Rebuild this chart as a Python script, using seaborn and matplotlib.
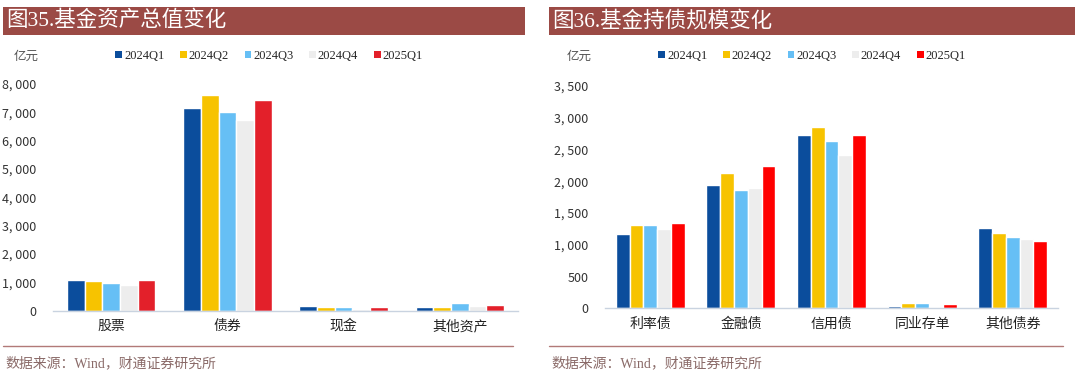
import matplotlib
matplotlib.use("Agg")
import matplotlib.pyplot as plt
from matplotlib.patches import Rectangle, Patch
from matplotlib.lines import Line2D
from matplotlib.ticker import FuncFormatter, FixedLocator
import seaborn as sns
import pandas as pd

sns.set_theme(style="white")
plt.rcParams['font.family'] = ['Noto Sans CJK SC', 'DejaVu Sans']

quarters = ["2024Q1", "2024Q2", "2024Q3", "2024Q4", "2025Q1"]

# Chart 35: fund total assets (亿元)
cats_left = ["股票", "债券", "现金", "其他资产"]
stock_vals = [1080, 1060, 985, 910, 1078]
bond_vals = [7140, 7600, 7020, 6720, 7440]
cash_vals = [150, 130, 140, 60, 130]
other_vals = [120, 120, 270, 150, 200]

# Chart 36: fund bond holdings (亿元)
cats_right = ["利率债", "金融债", "信用债", "同业存单", "其他债券"]
rate_vals = [1175, 1307, 1307, 1244, 1348]
fin_vals = [1942, 2126, 1858, 1900, 2236]
credit_vals = [2729, 2860, 2635, 2415, 2730]
ncd_vals = [36, 79, 79, 20, 63]
otherbond_vals = [1260, 1181, 1128, 1091, 1060]

colors_left = ["#0B4D9C", "#F7C300", "#66BFF5", "#EDEDED", "#E3202A"]
colors_right = ["#0B4D9C", "#F7C300", "#66BFF5", "#EDEDED", "#FF0000"]

def long_df(cats, series):
    rows = []
    for c, vals in zip(cats, series):
        for q, v in zip(quarters, vals):
            rows.append({"cat": c, "q": q, "v": v})
    return pd.DataFrame(rows)

df_left = long_df(cats_left, [stock_vals, bond_vals, cash_vals, other_vals])
df_right = long_df(cats_right, [rate_vals, fin_vals, credit_vals, ncd_vals, otherbond_vals])

W, H = 1080, 379
fig = plt.figure(figsize=(W / 100, H / 100), dpi=100)

def fx(px):
    return px / W

def fy(py):
    return 1 - py / H

title_color = "#9B4A45"
line_color = "#B27A78"
src_color = "#8A6A68"
serif_cjk = ["Liberation Serif", "Noto Sans CJK SC"]

def draw_panel(x0, x1, title, ax_rect, df, cats, colors, ymax, ystep, legend_cx, unit_x):
    # title bar
    fig.patches.append(Rectangle((fx(x0), fy(35)), fx(x1 - x0), fy(7) - fy(35),
                                 transform=fig.transFigure, facecolor=title_color,
                                 edgecolor="none", zorder=0))
    fig.text(fx(x0 + 3), fy(21), title, color="white", fontsize=15.5,
             va="center", ha="left", family=serif_cjk)
    ax = fig.add_axes(ax_rect)
    sns.barplot(data=df, x="cat", y="v", hue="q", palette=colors, order=cats,
                hue_order=quarters, width=0.76, saturation=1, legend=False, ax=ax)
    ax.set_ylim(0, ymax)
    ax.set_xlim(-0.5, len(cats) - 0.5)
    ax.set_yticks(list(range(0, ymax + 1, ystep)))
    ax.yaxis.set_major_formatter(FuncFormatter(lambda v, p: f"{int(v):,}".replace(",", ", ")))
    ax.set_xlabel("")
    ax.set_ylabel("")
    for s in ["top", "right", "left"]:
        ax.spines[s].set_visible(False)
    ax.spines["bottom"].set_color("#C9D3E0")
    ax.spines["bottom"].set_linewidth(1.0)
    ax.tick_params(axis="y", length=0, labelsize=9, labelcolor="#333333", pad=12)
    ax.tick_params(axis="x", length=0, labelsize=10, labelcolor="#222222", pad=6)
    ax.xaxis.set_minor_locator(FixedLocator([i - 0.5 for i in range(len(cats) + 1)]))
    ax.tick_params(axis="x", which="minor", length=4, color="#C9D3E0", width=1)
    ax.grid(False)
    # unit label
    fig.text(fx(unit_x), fy(56), "亿元", fontsize=9, color="#555555",
             va="center", ha="left", style="italic")
    # legend
    handles = [Patch(facecolor=c, edgecolor="none") for c in colors]
    fig.legend(handles, quarters, loc="center", bbox_to_anchor=(fx(legend_cx), fy(56)),
               ncol=5, frameon=False, handlelength=0.55, handleheight=0.55,
               handletextpad=0.15, columnspacing=1.25,
               prop={"family": "Liberation Serif", "size": 9})
    # separator line and source
    fig.add_artist(Line2D([fx(x0), fx(x1 - 12)], [fy(345.5), fy(345.5)],
                          transform=fig.transFigure, color=line_color, linewidth=1.0))
    fig.text(fx(x0 + 2), fy(363), "数据来源：Wind，财通证券研究所", fontsize=10,
             color=src_color, va="center", ha="left", family=serif_cjk)
    return ax

draw_panel(3, 525, "图35.基金资产总值变化",
           [fx(53), fy(310.7), fx(518 - 53), fy(84) - fy(310.7)],
           df_left, cats_left, colors_left, 8000, 1000, 269, 14)

draw_panel(549, 1075, "图36.基金持债规模变化",
           [fx(605), fy(308.3), fx(1058 - 605), fy(86) - fy(308.3)],
           df_right, cats_right, colors_right, 3500, 500, 812, 567)

fig.savefig("out.png", dpi=100)
